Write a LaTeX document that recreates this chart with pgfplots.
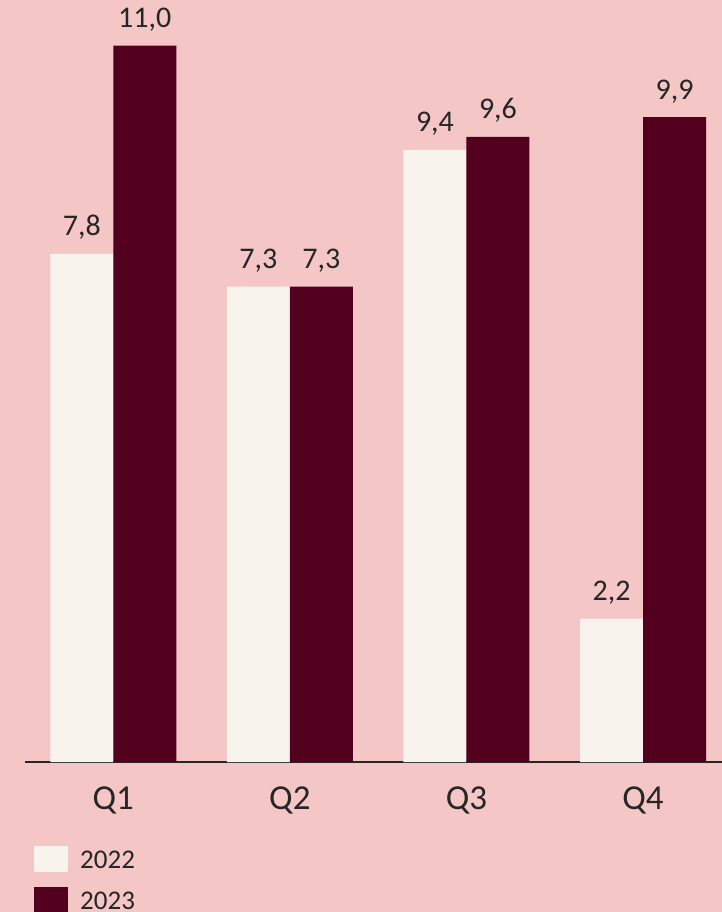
\documentclass[border=0pt]{standalone}
\usepackage{pgfplots}
\pgfplotsset{compat=1.18}
\usepackage{fontspec}
\setmainfont{Carlito}
\definecolor{bg}{HTML}{F4C6C6}
\definecolor{cream}{HTML}{F9F3EE}
\definecolor{maroon}{HTML}{52001E}
\definecolor{ink}{HTML}{262626}
\begin{document}
\begin{tikzpicture}
\fill[bg] (-25pt,-150pt) rectangle (697pt,762pt);
\useasboundingbox (-25pt,-150pt) rectangle (697pt,762pt);
\begin{axis}[
  scale only axis, width=697pt, height=762pt,
  at={(0,0)}, anchor=south west,
  ybar=0pt, bar width=63pt,
  xmin=-0.5, xmax=3.447, ymin=0, ymax=11.7,
  axis x line*=bottom, axis y line=none,
  x axis line style={ink, line width=1.6pt, -},
  xtick={0,1,2,3}, xticklabels={Q1,Q2,Q3,Q4},
  major tick length=0pt, ytick=\empty,
  xticklabel style={font=\fontsize{35}{40}\selectfont, text=ink, anchor=base, yshift=-47pt},
  /pgf/number format/.cd, fixed, fixed zerofill, precision=1, use comma, assume math mode=true,
  /pgfplots/.cd,
  nodes near coords, nodes near coords align={vertical},
  every node near coord/.append style={font=\fontsize{30}{36}\selectfont, text=ink, anchor=base, inner sep=0pt, yshift=18pt},
  legend style={at={(9pt,-84pt)}, anchor=north west, draw=none, fill=none,
    font=\fontsize{27}{32}\selectfont, text=ink, inner sep=0pt, row sep=15pt,
    nodes={inner sep=0pt}},
  legend cell align=left,
]
\addplot[fill=cream, draw=none,
  legend image code/.code={\fill[cream] (0pt,-12pt) rectangle (34pt,14pt);}]
  coordinates {(0,7.8) (1,7.3) (2,9.4) (3,2.2)};
\addplot[fill=maroon, draw=none,
  legend image code/.code={\fill[maroon] (0pt,-12pt) rectangle (34pt,14pt);}]
  coordinates {(0,11.0) (1,7.3) (2,9.6) (3,9.9)};
\legend{\hspace{12pt}2022,\hspace{12pt}2023}
\end{axis}
\end{tikzpicture}
\end{document}
